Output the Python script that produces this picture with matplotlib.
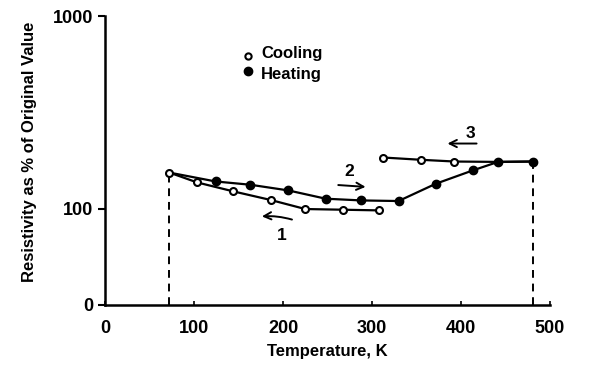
import matplotlib.pyplot as plt

plt.rcParams['font.family'] = ['Liberation Sans', 'DejaVu Sans']
plt.rcParams['font.weight'] = 'bold'

# Cooling run 1 (70 K -> 300 K, traced downward)
cool1_T = [72, 103, 144, 186, 225, 267, 308]
cool1_R = [154, 137, 123, 111, 99.6, 98.8, 98]

# Heating run 2 (from the 72 K start up to ~480 K)
heat_T = [72, 124, 163, 206, 248, 288, 330, 372, 414, 442, 481]
heat_R = [154, 138.5, 133.2, 124.4, 112.7, 110.4, 109.6, 134.8, 158.3, 175, 175.8]

# Cooling run 3 (back down from ~480 K)
cool3_T = [481, 442, 393, 355, 313]
cool3_R = [175.8, 175, 175.8, 179.5, 184.4]

y_ticks = [10 ** 1.5, 100, 1000]
y_labels = ['0', '100', '1000']
x_ticks = [0, 100, 200, 300, 400, 500]

fig = plt.figure(figsize=(5.98, 3.67), dpi=100)
ax = fig.add_axes([0.1764, 0.169, 0.7425, 0.787])
ax.set_yscale('log')
ax.set_xlim(0, 500)
ax.set_ylim(10 ** 1.5, 1000)

lw = 1.6
# lines
ax.plot(cool1_T, cool1_R, color='black', lw=lw, zorder=2)
ax.plot(heat_T, heat_R, color='black', lw=lw, zorder=2)
ax.plot(cool3_T, cool3_R, color='black', lw=lw, zorder=2)

# markers
ax.plot(heat_T[1:], heat_R[1:], 'o', color='black', ms=6, zorder=3)
ax.plot(cool1_T, cool1_R, 'o', mfc='white', mec='black', mew=1.5, ms=5, zorder=4)
ax.plot(cool3_T[2:], cool3_R[2:], 'o', mfc='white', mec='black', mew=1.5, ms=5, zorder=4)

# dashed drops to the axis at both ends
ax.plot([cool1_T[0], cool1_T[0]], [10 ** 1.5, cool1_R[0]], color='black', lw=1.4,
        ls=(0, (4, 3)), zorder=1)
ax.plot([heat_T[-1], heat_T[-1]], [10 ** 1.5, heat_R[-1]], color='black', lw=1.4,
        ls=(0, (4, 3)), zorder=1)

# run direction arrows
arrow = dict(arrowstyle='->', color='black', lw=1.4, mutation_scale=13)
ax.annotate('', xy=(173, 91), xytext=(213, 87),
            arrowprops=dict(arrow, connectionstyle='arc3,rad=0.1'))
ax.text(198, 73, '1', fontsize=12.5, ha='center', va='center')
ax.annotate('', xy=(296, 129.5), xytext=(259, 133), arrowprops=arrow)
ax.text(274, 156, '2', fontsize=12.5, ha='center', va='center')
ax.annotate('', xy=(382, 218), xytext=(421, 218), arrowprops=arrow)
ax.text(411, 245, '3', fontsize=12.5, ha='center', va='center')

# legend
ax.plot([161], [620], 'o', mfc='white', mec='black', mew=1.5, ms=4.5, clip_on=False)
ax.text(175, 640, 'Cooling', fontsize=12, va='center')
ax.plot([161], [520], 'o', color='black', ms=6, clip_on=False)
ax.text(175, 500, 'Heating', fontsize=12, va='center')

ax.set_yticks(y_ticks)
ax.set_yticklabels(y_labels)
ax.minorticks_off()
ax.set_xticks(x_ticks)
ax.tick_params(axis='y', direction='out', length=5, width=1.5, labelsize=13, pad=4)
ax.tick_params(axis='x', direction='in', length=3, width=1.2, labelsize=13, pad=11)

for s in ['top', 'right']:
    ax.spines[s].set_visible(False)
for s in ['left', 'bottom']:
    ax.spines[s].set_linewidth(1.8)

ax.set_xlabel('Temperature, K', fontsize=12, fontweight='bold', labelpad=5)
ax.set_ylabel('Resistivity as % of Original Value', fontsize=12, fontweight='bold')
ax.yaxis.set_label_coords(-0.155, 0.53)

fig.savefig('out.png', dpi=100)
